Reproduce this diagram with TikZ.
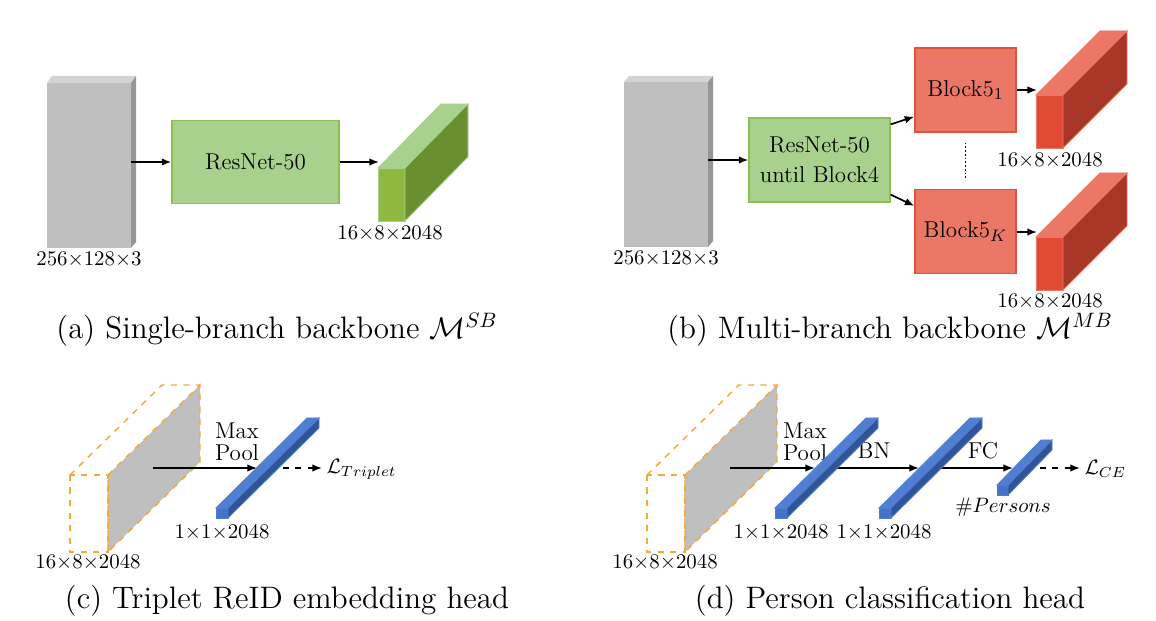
\documentclass[tikz,border=0pt]{standalone}
\usepackage{amsmath, amssymb}
\usepackage{tikz}
\usetikzlibrary{arrows.meta,calc}

\definecolor{imgfront}{HTML}{BFBFBF}
\definecolor{imgtop}{HTML}{D4D4D4}
\definecolor{imgside}{HTML}{979797}
\definecolor{grnbox}{HTML}{A9D18E}
\definecolor{grnedge}{HTML}{8CC152}
\definecolor{grnfront}{HTML}{8DB940}
\definecolor{grnside}{HTML}{6A8F2F}
\definecolor{redbox}{HTML}{EB7766}
\definecolor{rededge}{HTML}{E0523C}
\definecolor{redfront}{HTML}{E24B33}
\definecolor{redside}{HTML}{A93727}
\definecolor{barfront}{HTML}{4472C4}
\definecolor{bartop}{HTML}{4F7ED3}
\definecolor{barside}{HTML}{2F5597}
\definecolor{poolorange}{HTML}{F4A93A}

\begin{document}
\begin{tikzpicture}[x=0.48pt,y=-0.48pt,
    greenbox/.style={draw=grnedge, fill=grnbox, line width=0.6pt, inner sep=0pt, align=center, font=\fontsize{11}{14.5}\selectfont},
    redbox/.style={draw=rededge, fill=redbox, line width=0.6pt, inner sep=0pt, minimum width=48.5pt, minimum height=40.3pt, font=\fontsize{11}{13}\selectfont},
    oplabel/.style={anchor=south, align=left, inner sep=0pt, font=\fontsize{11}{10.6}\selectfont},
    arr/.style={-{Latex[length=4.6pt,width=3.6pt]}, line width=0.8pt},
    pool/.style={dashed, draw=poolorange, line width=0.7pt},
    captext/.style={font=\fontsize{14.9}{18}\selectfont}]
    \useasboundingbox (0,0) rectangle (1156,621);

    %%% (a) single-branch backbone
    %Shape: input image
    \fill[imgfront] (47,83) rectangle (131,248);
    \fill[imgtop] (47,83) -- (52,76) -- (136,76) -- (131,83) -- cycle;
    \fill[imgside] (131,83) -- (136,76) -- (136,242) -- (131,248) -- cycle;
    \coordinate (inA) at (131,162);
    \node (imgA) at (89,259) {256$\times$128$\times$3};
    % ResNet
    \node[greenbox, minimum width=80.2pt, minimum height=39.8pt] (resA) at (255.5,162) {ResNet-50};
    %Shape: output tensor
    \filldraw[draw=grnbox, fill=grnfront] (378,168) rectangle (405,221);
    \filldraw[draw=grnbox, fill=grnbox] (378,168) -- (441,104) -- (468,104) -- (405,168) -- cycle;
    \filldraw[draw=grnbox, fill=grnside] (405,168) -- (468,104) -- (468,157) -- (405,221) -- cycle;
    \coordinate (outA) at (379,162);
    \node (dimA) at (390,233) {16$\times$8$\times$2048};
    \draw[arr] (inA) -- (resA);
    \draw[arr] (resA) -- (outA);
    \node[captext] (capA) at (277,330) {(a) Single-branch backbone $\mathcal{M}^{SB}$};

    %%% (b) multi-branch backbone
    %Shape: input image
    \fill[imgfront] (624,82) rectangle (708,247);
    \fill[imgtop] (624,82) -- (629,76) -- (713,76) -- (708,82) -- cycle;
    \fill[imgside] (708,82) -- (713,76) -- (713,241) -- (708,247) -- cycle;
    \coordinate (inB) at (708,160);
    \node (imgB) at (666,258) {256$\times$128$\times$3};
    \node[greenbox, minimum width=67.7pt, minimum height=40.3pt] (resB) at (819.5,160) {ResNet-50\\until Block4};
    \node[redbox] (blk1) at (965.5,90) {Block5$_1$};
    \node[redbox] (blkK) at (965.5,231.5) {Block5$_K$};
    \draw[arr] (inB) -- (resB);
    \draw[arr] ($(resB.north east)+(0,7)$) -- ($(blk1.south west)+(0,-16)$);
    \draw[arr] ($(resB.south east)+(0,-8)$) -- ($(blkK.north west)+(0,17)$);
    \draw[dash pattern=on 0.9pt off 0.9pt, line width=0.9pt] ($(blk1.south)+(0,10)$) -- ($(blkK.north)+(0,-10)$);
    %Shape: output tensors
    \foreach \ty/\nm in {95/outB1, 237/outBK} {
        \filldraw[draw=redbox, fill=redfront] (1036,\ty) rectangle (1063,{\ty+53});
        \filldraw[draw=redbox, fill=redbox] (1036,\ty) -- (1100,{\ty-64}) -- (1127,{\ty-64}) -- (1063,\ty) -- cycle;
        \filldraw[draw=redbox, fill=redside] (1063,\ty) -- (1127,{\ty-64}) -- (1127,{\ty-11}) -- (1063,{\ty+53}) -- cycle;
        \coordinate (\nm) at (1037,{\ty-5});
    }
    \draw[arr] (blk1) -- (outB1);
    \draw[arr] (blkK.east |- outBK) -- (outBK);
    \node (dimB1) at (1050,160) {16$\times$8$\times$2048};
    \node (dimBK) at (1050,301) {16$\times$8$\times$2048};
    \node[captext] (capB) at (890,330) {(b) Multi-branch backbone $\mathcal{M}^{MB}$};

    %%% (c) and (d): pooled feature maps
    \foreach \px in {70,647} {
        \filldraw[pool, fill=imgfront] ({\px+38},475) -- ({\px+130},385) -- ({\px+130},462) -- ({\px+38},552) -- cycle;
        \draw[pool] (\px,475) rectangle ({\px+38},552);
        \draw[pool] (\px,475) -- ({\px+92},385) -- ({\px+130},385);
    }
    \node (dimC) at (88,562) {16$\times$8$\times$2048};
    \node (dimD) at (665,562) {16$\times$8$\times$2048};

    % (c) arrows
    \coordinate (fmC) at (153,468);
    \coordinate (vecCin) at (257,468);
    \coordinate (vecCout) at (270,468);
    \node[anchor=west, inner sep=2pt] (lossC) at (322,469) {$\mathcal{L}_{Triplet}$};
    \node[oplabel] (poolC) at (237,461) {Max\\Pool};
    \draw[arr] (fmC) -- (vecCin);
    \draw[arr, dashed] (vecCout) -- (lossC.west |- vecCout);

    % (d) arrows
    \coordinate (fmD) at (730,468);
    \coordinate (bnin) at (815,468);
    \coordinate (bnout) at (829,468);
    \coordinate (fcin) at (919,468);
    \coordinate (fcout) at (933,468);
    \coordinate (clsin) at (1013,468);
    \coordinate (clsout) at (1027,468);
    \node[anchor=west, inner sep=2pt] (lossD) at (1080,469) {$\mathcal{L}_{CE}$};
    \node[oplabel] (poolD) at (805,461) {Max\\Pool};
    \node[oplabel] (bnD) at (874,459) {BN};
    \node[oplabel] (fcD) at (983,459) {FC};
    \draw[arr] (fmD) -- (bnin);
    \draw[arr] (bnout) -- (fcin);
    \draw[arr] (fcout) -- (clsin);
    \draw[arr, dashed] (clsout) -- (lossD.west |- clsout);

    %Shape: embedding vectors
    \foreach \bx in {216,775,879} {
        \filldraw[draw=bartop, fill=barfront] (\bx,508) rectangle ({\bx+12},518);
        \filldraw[draw=bartop, fill=bartop] (\bx,508) -- ({\bx+91},418) -- ({\bx+103},418) -- ({\bx+12},508) -- cycle;
        \filldraw[draw=bartop, fill=barside] ({\bx+12},508) -- ({\bx+103},418) -- ({\bx+103},428) -- ({\bx+12},518) -- cycle;
    }
    %Shape: class scores
    \filldraw[draw=bartop, fill=barfront] (997,485) rectangle (1008,495);
    \filldraw[draw=bartop, fill=bartop] (997,485) -- (1041,440) -- (1052,440) -- (1008,485) -- cycle;
    \filldraw[draw=bartop, fill=barside] (1008,485) -- (1052,440) -- (1052,450) -- (1008,495) -- cycle;

    \node (dimC1) at (222,532) {1$\times$1$\times$2048};
    \node (dimD1) at (781,532) {1$\times$1$\times$2048};
    \node (dimD2) at (884,532) {1$\times$1$\times$2048};
    \node (dimD3) at (1003,507) {$\#Persons$};
    \node[captext] (capC) at (287,601) {(c) Triplet ReID embedding head};
    \node[captext] (capD) at (890,601) {(d) Person classification head};

\end{tikzpicture}
\end{document}
